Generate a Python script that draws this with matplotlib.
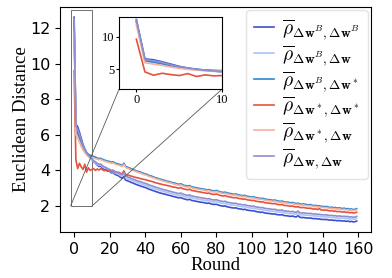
import matplotlib
matplotlib.use('Agg')
import matplotlib.pyplot as plt
import numpy as np
from mpl_toolkits.axes_grid1.inset_locator import mark_inset

plt.rcParams['mathtext.fontset'] = 'cm'

# rounds 0..159
rounds = np.arange(160)

# dark blue : rho_{dwB, dwB}
d_bb = [12.60, 6.60, 6.45, 6.15, 5.80, 5.45, 5.20, 5.00, 4.88, 4.74,
        4.60, 4.48, 4.40, 4.30, 4.22, 4.24, 4.12, 4.06, 4.00, 3.96,
        3.95, 3.86, 3.88, 3.78, 3.74, 3.70, 3.62, 3.56, 3.66, 3.45,
        3.42, 3.38, 3.33, 3.30, 3.25, 3.21, 3.17, 3.14, 3.10, 3.07,
        3.04, 3.00, 2.95, 2.92, 2.88, 2.85, 2.81, 2.78, 2.74, 2.72,
        2.69, 2.67, 2.64, 2.61, 2.59, 2.56, 2.53, 2.51, 2.48, 2.46,
        2.48, 2.43, 2.40, 2.37, 2.35, 2.38, 2.32, 2.30, 2.28, 2.26,
        2.24, 2.22, 2.21, 2.19, 2.17, 2.15, 2.17, 2.12, 2.10, 2.09,
        2.10, 2.06, 2.03, 2.01, 1.99, 2.01, 1.96, 1.94, 1.92, 1.90,
        1.89, 1.90, 1.86, 1.84, 1.83, 1.80, 1.82, 1.78, 1.76, 1.75,
        1.73, 1.74, 1.70, 1.68, 1.67, 1.64, 1.66, 1.62, 1.60, 1.59,
        1.58, 1.56, 1.55, 1.56, 1.52, 1.51, 1.50, 1.52, 1.47, 1.46,
        1.45, 1.43, 1.42, 1.44, 1.40, 1.39, 1.46, 1.37, 1.35, 1.36,
        1.34, 1.33, 1.32, 1.33, 1.30, 1.29, 1.30, 1.27, 1.28, 1.25,
        1.25, 1.24, 1.25, 1.22, 1.21, 1.22, 1.19, 1.20, 1.17, 1.19,
        1.17, 1.16, 1.17, 1.14, 1.16, 1.12, 1.14, 1.11, 1.12, 1.16]

# light blue : rho_{dwB, dw}
d_bw = [12.20, 6.20, 6.05, 5.80, 5.50, 5.25, 5.05, 4.92, 4.80, 4.70,
        4.60, 4.50, 4.42, 4.34, 4.28, 4.30, 4.20, 4.14, 4.10, 4.04,
        3.98, 3.92, 3.94, 3.86, 3.82, 3.78, 3.72, 3.68, 3.80, 3.58,
        3.54, 3.50, 3.45, 3.42, 3.38, 3.34, 3.30, 3.27, 3.23, 3.19,
        3.16, 3.13, 3.08, 3.05, 3.01, 2.98, 2.94, 2.92, 2.88, 2.85,
        2.82, 2.80, 2.77, 2.74, 2.72, 2.69, 2.66, 2.64, 2.61, 2.59,
        2.62, 2.57, 2.54, 2.51, 2.49, 2.52, 2.46, 2.44, 2.42, 2.40,
        2.38, 2.36, 2.35, 2.33, 2.31, 2.29, 2.31, 2.26, 2.24, 2.23,
        2.25, 2.21, 2.18, 2.16, 2.14, 2.16, 2.11, 2.09, 2.07, 2.05,
        2.04, 2.05, 2.01, 1.99, 1.98, 1.95, 1.97, 1.93, 1.91, 1.90,
        1.88, 1.89, 1.85, 1.83, 1.82, 1.79, 1.81, 1.77, 1.75, 1.74,
        1.73, 1.71, 1.70, 1.71, 1.67, 1.66, 1.65, 1.67, 1.62, 1.61,
        1.60, 1.58, 1.57, 1.59, 1.55, 1.54, 1.61, 1.52, 1.50, 1.51,
        1.49, 1.48, 1.47, 1.48, 1.45, 1.44, 1.45, 1.42, 1.43, 1.40,
        1.40, 1.39, 1.40, 1.37, 1.36, 1.37, 1.34, 1.35, 1.32, 1.34,
        1.32, 1.31, 1.32, 1.29, 1.31, 1.27, 1.29, 1.26, 1.27, 1.31]

# steel blue : rho_{dwB, dw*}
d_bs = [12.30, 6.35, 6.10, 5.85, 5.55, 5.35, 5.15, 5.00, 4.90, 4.85,
        4.80, 4.78, 4.74, 4.70, 4.66, 4.68, 4.62, 4.58, 4.55, 4.52,
        4.50, 4.46, 4.48, 4.42, 4.38, 4.36, 4.32, 4.28, 4.40, 4.22,
        4.18, 4.14, 4.10, 4.06, 4.02, 3.98, 3.94, 3.92, 3.88, 3.84,
        3.80, 3.78, 3.72, 3.70, 3.66, 3.62, 3.58, 3.56, 3.52, 3.50,
        3.46, 3.44, 3.40, 3.38, 3.36, 3.32, 3.30, 3.28, 3.24, 3.22,
        3.25, 3.20, 3.16, 3.14, 3.12, 3.15, 3.08, 3.06, 3.04, 3.02,
        3.00, 2.98, 2.96, 2.95, 2.93, 2.90, 2.92, 2.88, 2.86, 2.84,
        2.88, 2.84, 2.80, 2.78, 2.76, 2.78, 2.74, 2.72, 2.70, 2.68,
        2.66, 2.68, 2.64, 2.62, 2.60, 2.58, 2.60, 2.56, 2.54, 2.52,
        2.50, 2.52, 2.48, 2.46, 2.44, 2.42, 2.44, 2.40, 2.38, 2.36,
        2.36, 2.34, 2.32, 2.34, 2.30, 2.28, 2.26, 2.28, 2.24, 2.22,
        2.22, 2.20, 2.18, 2.20, 2.16, 2.14, 2.16, 2.12, 2.10, 2.12,
        2.10, 2.08, 2.06, 2.08, 2.04, 2.02, 2.04, 2.00, 2.02, 1.98,
        1.98, 1.96, 1.98, 1.94, 1.92, 1.94, 1.90, 1.92, 1.88, 1.90,
        1.88, 1.86, 1.88, 1.84, 1.86, 1.82, 1.84, 1.80, 1.82, 1.85]

# red : rho_{dw*, dw*}
d_ss = [9.60, 4.60, 4.10, 4.40, 4.20, 4.05, 4.35, 3.90, 4.15, 4.00,
        4.05, 4.10, 4.00, 4.08, 4.02, 4.10, 4.04, 3.98, 4.06, 3.96,
        4.00, 3.95, 3.98, 3.92, 3.88, 3.90, 3.84, 3.80, 3.98, 3.76,
        3.74, 3.72, 3.68, 3.66, 3.62, 3.60, 3.58, 3.55, 3.52, 3.50,
        3.48, 3.46, 3.42, 3.40, 3.37, 3.34, 3.30, 3.28, 3.25, 3.23,
        3.20, 3.18, 3.16, 3.14, 3.12, 3.08, 3.06, 3.05, 3.02, 3.00,
        3.04, 2.98, 2.95, 2.93, 2.91, 2.95, 2.88, 2.86, 2.84, 2.82,
        2.80, 2.79, 2.76, 2.75, 2.73, 2.71, 2.73, 2.68, 2.66, 2.65,
        2.68, 2.64, 2.60, 2.58, 2.56, 2.59, 2.54, 2.52, 2.50, 2.48,
        2.46, 2.48, 2.44, 2.42, 2.41, 2.38, 2.40, 2.36, 2.34, 2.33,
        2.31, 2.32, 2.28, 2.26, 2.25, 2.22, 2.24, 2.20, 2.18, 2.17,
        2.16, 2.14, 2.13, 2.14, 2.10, 2.08, 2.07, 2.09, 2.04, 2.03,
        2.02, 2.00, 1.99, 2.00, 1.96, 1.95, 1.96, 1.92, 1.91, 1.92,
        1.90, 1.88, 1.87, 1.88, 1.84, 1.83, 1.84, 1.80, 1.86, 1.78,
        1.78, 1.76, 1.78, 1.74, 1.73, 1.74, 1.70, 1.72, 1.68, 1.70,
        1.68, 1.66, 1.68, 1.64, 1.66, 1.62, 1.64, 1.61, 1.62, 1.65]

# light salmon : rho_{dw*, dw}
d_sw = [11.80, 6.00, 5.80, 5.60, 5.35, 5.15, 5.00, 4.88, 4.80, 4.76,
        4.72, 4.70, 4.66, 4.64, 4.60, 4.62, 4.56, 4.52, 4.50, 4.46,
        4.44, 4.40, 4.42, 4.36, 4.32, 4.30, 4.26, 4.22, 4.34, 4.16,
        4.12, 4.08, 4.04, 4.00, 3.96, 3.93, 3.88, 3.86, 3.82, 3.78,
        3.75, 3.72, 3.67, 3.64, 3.60, 3.57, 3.52, 3.50, 3.47, 3.44,
        3.40, 3.38, 3.35, 3.32, 3.30, 3.27, 3.24, 3.22, 3.19, 3.16,
        3.19, 3.14, 3.11, 3.08, 3.06, 3.09, 3.03, 3.00, 2.98, 2.96,
        2.94, 2.92, 2.91, 2.89, 2.87, 2.85, 2.86, 2.82, 2.80, 2.79,
        2.82, 2.78, 2.75, 2.72, 2.70, 2.72, 2.68, 2.66, 2.64, 2.62,
        2.61, 2.62, 2.58, 2.56, 2.55, 2.52, 2.54, 2.50, 2.48, 2.47,
        2.45, 2.46, 2.42, 2.40, 2.39, 2.36, 2.38, 2.34, 2.32, 2.31,
        2.30, 2.28, 2.27, 2.28, 2.24, 2.22, 2.21, 2.22, 2.18, 2.17,
        2.16, 2.14, 2.13, 2.14, 2.10, 2.09, 2.10, 2.06, 2.05, 2.06,
        2.04, 2.02, 2.01, 2.02, 1.98, 1.97, 1.98, 1.94, 1.96, 1.92,
        1.92, 1.90, 1.92, 1.88, 1.87, 1.88, 1.84, 1.86, 1.82, 1.84,
        1.82, 1.80, 1.82, 1.78, 1.80, 1.76, 1.78, 1.75, 1.76, 1.79]

# purple : rho_{dw, dw}
d_ww = [12.50, 6.50, 6.30, 6.05, 5.70, 5.40, 5.20, 5.00, 4.85, 4.75,
        4.65, 4.55, 4.48, 4.40, 4.34, 4.36, 4.26, 4.20, 4.16, 4.10,
        4.06, 4.00, 4.02, 3.94, 3.90, 3.86, 3.80, 3.76, 3.88, 3.68,
        3.64, 3.60, 3.55, 3.52, 3.48, 3.44, 3.40, 3.38, 3.34, 3.30,
        3.27, 3.24, 3.19, 3.16, 3.12, 3.09, 3.05, 3.03, 2.99, 2.96,
        2.93, 2.91, 2.88, 2.85, 2.83, 2.80, 2.77, 2.75, 2.72, 2.70,
        2.73, 2.68, 2.65, 2.62, 2.60, 2.63, 2.57, 2.55, 2.53, 2.51,
        2.49, 2.47, 2.46, 2.44, 2.42, 2.40, 2.42, 2.37, 2.35, 2.34,
        2.36, 2.32, 2.29, 2.27, 2.25, 2.27, 2.22, 2.20, 2.18, 2.16,
        2.15, 2.16, 2.12, 2.10, 2.09, 2.06, 2.08, 2.04, 2.02, 2.01,
        1.99, 2.00, 1.96, 1.94, 1.93, 1.90, 1.92, 1.88, 1.86, 1.85,
        1.84, 1.82, 1.81, 1.82, 1.78, 1.77, 1.76, 1.78, 1.73, 1.72,
        1.71, 1.70, 1.68, 1.70, 1.66, 1.65, 1.72, 1.63, 1.61, 1.62,
        1.60, 1.59, 1.58, 1.59, 1.56, 1.55, 1.56, 1.53, 1.54, 1.51,
        1.51, 1.50, 1.51, 1.48, 1.47, 1.48, 1.45, 1.46, 1.43, 1.45,
        1.43, 1.42, 1.43, 1.40, 1.42, 1.38, 1.40, 1.37, 1.38, 1.42]

series = [d_bb, d_bw, d_bs, d_ss, d_sw, d_ww]
labels = [r'$\overline{\rho}_{\Delta\mathbf{w}^B,\Delta\mathbf{w}^B}$',
          r'$\overline{\rho}_{\Delta\mathbf{w}^B,\Delta\mathbf{w}}$',
          r'$\overline{\rho}_{\Delta\mathbf{w}^B,\Delta\mathbf{w}^*}$',
          r'$\overline{\rho}_{\Delta\mathbf{w}^*,\Delta\mathbf{w}^*}$',
          r'$\overline{\rho}_{\Delta\mathbf{w}^*,\Delta\mathbf{w}}$',
          r'$\overline{\rho}_{\Delta\mathbf{w},\Delta\mathbf{w}}$']
colors = ['#3d4fcf', '#a9c6f7', '#2a87d2', '#e5533f', '#f6b29c', '#8f8fd0']

fig = plt.figure(figsize=(3.92, 2.78), dpi=100)
ax = fig.add_axes([0.153, 0.165, 0.793, 0.81])

for y, lab, c in zip(series, labels, colors):
    ax.plot(rounds, y, color=c, lw=1.2, label=lab)

ax.set_xticks([0, 20, 40, 60, 80, 100, 120, 140, 160])
ax.set_yticks([2, 4, 6, 8, 10, 12])
ax.tick_params(labelsize=11.5)
ax.set_xlabel('Round', family='Liberation Serif', fontsize=13.5, labelpad=0)
ax.set_ylabel('Euclidean Distance', family='Liberation Serif', fontsize=13.5, labelpad=0)

leg = ax.legend(loc='upper right', fontsize=14, handlelength=1.0, handletextpad=0.45,
                labelspacing=0.06, borderaxespad=0.15, borderpad=0.4)
leg.get_frame().set_edgecolor('#dddddd')

# zoomed inset of first 10 rounds
axins = fig.add_axes([0.304, 0.68, 0.263, 0.259])
for y, c in zip(series, colors):
    axins.plot(rounds, y, color=c, lw=1.2)
axins.set_xlim(-2, 10)
axins.set_ylim(2, 13)
axins.set_xticks([0, 10])
axins.set_yticks([5, 10])
for t in axins.get_xticklabels() + axins.get_yticklabels():
    t.set_family('Liberation Serif')
axins.tick_params(labelsize=9, length=2.5, pad=1)
mark_inset(ax, axins, loc1=3, loc2=4, fc='none', ec='0.35', lw=0.6)

fig.savefig('out.png', dpi=100)
